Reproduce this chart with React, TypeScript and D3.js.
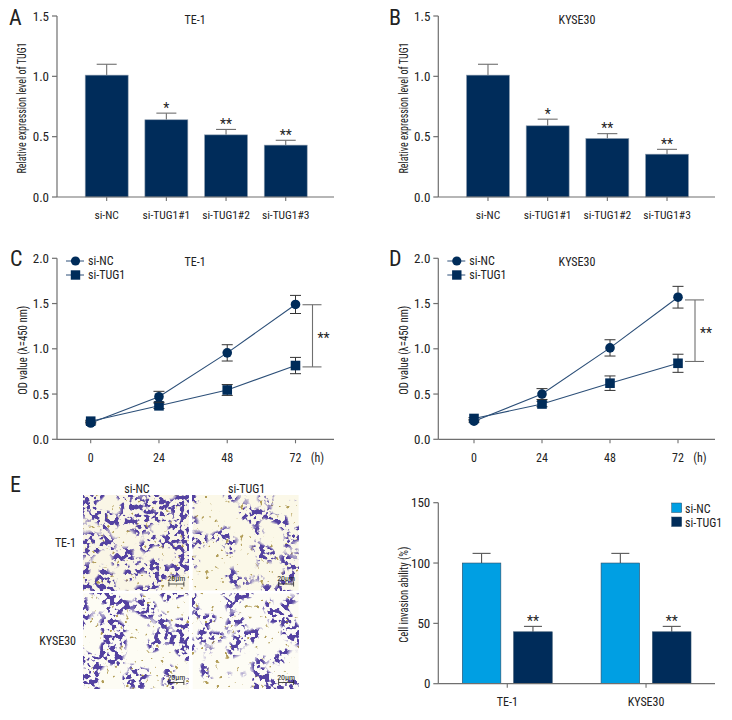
import * as d3 from "d3"

const FONT = "'Liberation Sans Narrow', 'Roboto Condensed', 'Liberation Sans', sans-serif"
const NAVY = "#002c5a"
const CYAN = "#009fe3"
const AXIS = "#6f6f6f"
const TEXT = "#222"

// knockdown groups
const groups = ["si-NC", "si-TUG1#1", "si-TUG1#2", "si-TUG1#3"]
const teBars = [1.01, 0.64, 0.515, 0.43]
const teBarErr = [0.09, 0.055, 0.045, 0.04]
const kyseBars = [1.01, 0.59, 0.485, 0.355]
const kyseBarErr = [0.09, 0.055, 0.04, 0.04]
const barStars = ["", "*", "**", "**"]
const barTicks = [0, 0.5, 1, 1.5]

// proliferation curves
const hours = [0, 24, 48, 72]
const odTicks = [0, 0.5, 1, 1.5, 2]
const teNC = [0.18, 0.47, 0.955, 1.49]
const teNCErr = [0.01, 0.06, 0.09, 0.1]
const teTUG = [0.2, 0.37, 0.545, 0.815]
const teTUGErr = [0.01, 0.03, 0.06, 0.09]
const teBracket = [1.487, 0.8]
const kyseNC = [0.2, 0.5, 1.01, 1.57]
const kyseNCErr = [0.01, 0.06, 0.09, 0.12]
const kyseTUG = [0.23, 0.39, 0.62, 0.84]
const kyseTUGErr = [0.01, 0.03, 0.08, 0.1]
const kyseBracket = [1.54, 0.86]

// invasion
const cellLines = ["TE-1", "KYSE30"]
const treatments = ["si-NC", "si-TUG1"]
const invasionNC = [100, 100]
const invasionNCErr = [8, 8]
const invasionTUG = [43, 43]
const invasionTUGErr = [4.5, 4.5]
const invasionTicks = [0, 50, 100, 150]

// micrograph look per field: noise seed, clump cut-off, background
const fieldSeeds = [4, 11, 23, 37]
const fieldClump = [5.0, 6.0, 5.5, 6.1]
const fieldBack = ["#faf6e6", "#fbf8e8", "#fdfcf4", "#fdfcf5"]

function Label(props: any) {
  return <text fontFamily={FONT} fontSize={12} fill={TEXT} {...props} />
}

function YAxis({ x, y, ticks, fmt, title, titleX, titleLen }: any) {
  const [y0, y1] = y.range()
  return (
    <g>
      <line x1={x} x2={x} y1={y0} y2={y1} stroke={AXIS} strokeWidth={1.2} />
      {ticks.map((t: number) => (
        <g key={t}>
          <line x1={x - 5} x2={x} y1={y(t)} y2={y(t)} stroke={AXIS} strokeWidth={1.2} />
          <Label x={x - 8} y={y(t) + 4.5} textAnchor="end" fontSize={13}>
            {fmt(t)}
          </Label>
        </g>
      ))}
      <Label
        textAnchor="middle"
        fontSize={13}
        transform={`translate(${titleX},${(y0 + y1) / 2 + 1.5}) rotate(-90)`}
        textLength={titleLen}
        lengthAdjust="spacingAndGlyphs"
      >
        {title}
      </Label>
    </g>
  )
}

function ErrorBar({ x, yTop, yBase, cap, color = AXIS }: any) {
  return (
    <g stroke={color} strokeWidth={1.1}>
      <line x1={x} x2={x} y1={yBase} y2={yTop} />
      <line x1={x - cap} x2={x + cap} y1={yTop} y2={yTop} />
    </g>
  )
}

function BarPanel({ axisX, endX, letter, letterX, title, titleX, values, errs, titleAxisX }: any) {
  const y = d3.scaleLinear().domain([0, 1.5]).range([197, 16])
  const x = d3
    .scaleBand()
    .domain(groups)
    .range([axisX + 28.2, axisX + 250.2])
    .paddingInner(0.28)
    .paddingOuter(0)
  const cx = (g: string) => (x(g) ?? 0) + x.bandwidth() / 2
  return (
    <g>
      <Label x={letterX} y={25} fontSize={22}>
        {letter}
      </Label>
      <Label x={titleX} y={23.5} textAnchor="middle">
        {title}
      </Label>
      {groups.map((g, i) => (
        <g key={g}>
          <ErrorBar x={cx(g)} yTop={y(values[i] + errs[i])} yBase={y(values[i])} cap={10} />
          <rect
            x={x(g)}
            y={y(values[i])}
            width={x.bandwidth()}
            height={y(0) - y(values[i])}
            fill={NAVY}
            stroke="#8f9fb0"
            strokeWidth={0.6}
          />
          <line x1={cx(g)} x2={cx(g)} y1={y(0)} y2={y(0) + 4} stroke={AXIS} strokeWidth={1.1} />
          <Label x={cx(g)} y={219} textAnchor="middle" fontSize={11.5}>
            {g}
          </Label>
          {barStars[i] && (
            <Label x={cx(g)} y={y(values[i] + errs[i]) - 0.5} textAnchor="middle" fontSize={14}>
              {barStars[i]}
            </Label>
          )}
        </g>
      ))}
      <line x1={axisX} x2={endX} y1={y(0)} y2={y(0)} stroke={AXIS} strokeWidth={1.2} />
      <YAxis
        x={axisX}
        y={y}
        ticks={barTicks}
        fmt={d3.format(".1f")}
        title="Relative expression level of TUG1"
        titleX={titleAxisX}
        titleLen={131}
      />
    </g>
  )
}

function LinePanel({ axisX, endX, letter, letterX, title, titleX, nc, ncErr, tug, tugErr, bracket, titleAxisX, x0, x72 }: any) {
  const y = d3.scaleLinear().domain([0, 2]).range([439.3, 258.3])
  const x = d3.scaleLinear().domain([0, 72]).range([x0, x72])
  const line = d3
    .line<number>()
    .x((_, i) => x(hours[i]))
    .y((d) => y(d))
  const bracketX = x(72) + 17
  const legendX = axisX + 9
  return (
    <g>
      <Label x={letterX} y={266} fontSize={22}>
        {letter}
      </Label>
      <Label x={titleX} y={266} textAnchor="middle">
        {title}
      </Label>
      {[tug, nc].map((vals: number[], s) => (
        <g key={s}>
          {vals.map((v, i) => {
            const e = s ? ncErr[i] : tugErr[i]
            return (
              <g key={i} stroke="#333" strokeWidth={1}>
                <line x1={x(hours[i])} x2={x(hours[i])} y1={y(v + e)} y2={y(v - e)} />
                <line x1={x(hours[i]) - 5.5} x2={x(hours[i]) + 5.5} y1={y(v + e)} y2={y(v + e)} />
                <line x1={x(hours[i]) - 5.5} x2={x(hours[i]) + 5.5} y1={y(v - e)} y2={y(v - e)} />
              </g>
            )
          })}
          <path d={line(vals) ?? ""} fill="none" stroke="#2c4f78" strokeWidth={1.1} />
          {vals.map((v, i) =>
            s ? (
              <circle key={i} cx={x(hours[i])} cy={y(v)} r={4.8} fill={NAVY} />
            ) : (
              <rect key={i} x={x(hours[i]) - 4.8} y={y(v) - 4.8} width={9.6} height={9.6} fill={NAVY} />
            )
          )}
        </g>
      ))}
      <g stroke={AXIS} strokeWidth={1.1}>
        <line x1={bracketX} x2={bracketX} y1={y(bracket[0])} y2={y(bracket[1])} />
        <line x1={bracketX - 10} x2={bracketX + 9} y1={y(bracket[0])} y2={y(bracket[0])} />
        <line x1={bracketX - 10} x2={bracketX + 9} y1={y(bracket[1])} y2={y(bracket[1])} />
      </g>
      <Label x={bracketX + 11} y={(y(bracket[0]) + y(bracket[1])) / 2 + 7} textAnchor="middle" fontSize={14}>
        **
      </Label>
      <line x1={legendX} x2={legendX + 18} y1={261} y2={261} stroke="#2c4f78" strokeWidth={1} />
      <circle cx={legendX + 9.5} cy={261} r={4.6} fill={NAVY} />
      <Label x={legendX + 22} y={265}>
        si-NC
      </Label>
      <line x1={legendX} x2={legendX + 18} y1={275} y2={275} stroke="#2c4f78" strokeWidth={1} />
      <rect x={legendX + 4.8} y={270.3} width={9.4} height={9.4} fill={NAVY} />
      <Label x={legendX + 22} y={279}>
        si-TUG1
      </Label>
      <line x1={axisX} x2={endX} y1={y(0)} y2={y(0)} stroke={AXIS} strokeWidth={1.2} />
      {hours.map((h) => (
        <g key={h}>
          <line x1={x(h)} x2={x(h)} y1={y(0)} y2={y(0) + 4} stroke={AXIS} strokeWidth={1.1} />
          <Label x={x(h)} y={461.5} textAnchor="middle">
            {h}
          </Label>
        </g>
      ))}
      <Label x={x(72) + 22} y={461.5} textAnchor="middle">
        (h)
      </Label>
      <YAxis
        x={axisX}
        y={y}
        ticks={odTicks}
        fmt={d3.format(".1f")}
        title="OD value (λ=450 nm)"
        titleX={titleAxisX}
        titleLen={89}
      />
    </g>
  )
}

function Micrographs() {
  const col = d3.scaleBand().domain(treatments).range([83, 298.6]).paddingInner(0.035)
  const row = d3.scaleBand().domain(cellLines).range([495, 689]).paddingInner(0.03)
  return (
    <g>
      <defs>
        {fieldSeeds.map((seed, i) => (
          <filter
            key={i}
            id={`cells${i}`}
            x="0"
            y="0"
            width="1"
            height="1"
            colorInterpolationFilters="sRGB"
          >
            <feTurbulence type="fractalNoise" baseFrequency={0.04} numOctaves={2} seed={seed} result="low" />
            <feColorMatrix
              in="low"
              type="matrix"
              values={`0 0 0 0 0  0 0 0 0 0  0 0 0 0 0  12 0 0 0 -${fieldClump[i]}`}
              result="clumps"
            />
            <feTurbulence type="fractalNoise" baseFrequency={0.2} numOctaves={2} seed={seed + 1} result="high" />
            <feColorMatrix
              in="high"
              type="matrix"
              values="0 0 0 0 0.33  0 0 0 0 0.26  0 0 0 0 0.63  16 0 0 0 -7.9"
              result="cellsRaw"
            />
            <feComposite in="cellsRaw" in2="clumps" operator="in" result="cellsIn" />
            <feColorMatrix
              in="high"
              type="matrix"
              values="0 0 0 0 0.7  0 0 0 0 0.62  0 0 0 0 0.35  0 14 0 0 -9.8"
              result="specks"
            />
            <feMerge>
              <feMergeNode in="specks" />
              <feMergeNode in="cellsIn" />
            </feMerge>
          </filter>
        ))}
      </defs>
      {cellLines.flatMap((c, r) =>
        treatments.map((t, k) => {
          const i = r * 2 + k
          const px = col(t) ?? 0
          const py = row(c) ?? 0
          const sx = px + col.bandwidth() - 20
          const sy = py + row.bandwidth() - 9
          return (
            <g key={c + t}>
              <rect x={px} y={py} width={col.bandwidth()} height={row.bandwidth()} fill={fieldBack[i]} />
              <rect
                x={px}
                y={py}
                width={col.bandwidth()}
                height={row.bandwidth()}
                fill="#000"
                filter={`url(#cells${i})`}
              />
              <g stroke="#222" strokeWidth={0.8} fill="none">
                <path d={`M${sx},${sy} v5 M${sx},${sy + 2.5} h15 M${sx + 15},${sy} v5`} />
              </g>
              <Label x={sx + 7.5} y={sy - 0.5} textAnchor="middle" fontSize={8}>
                20μm
              </Label>
            </g>
          )
        })
      )}
      {treatments.map((t) => (
        <Label key={t} x={(col(t) ?? 0) + col.bandwidth() / 2 + 1} y={493} textAnchor="middle">
          {t}
        </Label>
      ))}
      {cellLines.map((c) => (
        <Label key={c} x={76} y={(row(c) ?? 0) + row.bandwidth() / 2 + 4} textAnchor="end">
          {c}
        </Label>
      ))}
    </g>
  )
}

function InvasionPanel() {
  const axisX = 438.3
  const endX = 715
  const y = d3.scaleLinear().domain([0, 150]).range([683.7, 502.7])
  const x0 = d3.scaleBand().domain(cellLines).range([462.3, 691]).paddingInner(0.352)
  const x1 = d3.scaleBand().domain(treatments).range([0, x0.bandwidth()]).paddingInner(0.25)
  const series = [
    { name: treatments[0], vals: invasionNC, errs: invasionNCErr, color: CYAN },
    { name: treatments[1], vals: invasionTUG, errs: invasionTUGErr, color: NAVY },
  ]
  return (
    <g>
      {cellLines.map((c, i) => (
        <g key={c}>
          {series.map((s) => {
            const bx = (x0(c) ?? 0) + (x1(s.name) ?? 0)
            const cx = bx + x1.bandwidth() / 2
            return (
              <g key={s.name}>
                <ErrorBar x={cx} yTop={y(s.vals[i] + s.errs[i])} yBase={y(s.vals[i])} cap={9} color="#555" />
                <rect
                  x={bx}
                  y={y(s.vals[i])}
                  width={x1.bandwidth()}
                  height={y(0) - y(s.vals[i])}
                  fill={s.color}
                  stroke="#2b4a66"
                  strokeWidth={0.6}
                />
              </g>
            )
          })}
          <Label x={(x0(c) ?? 0) + x0.bandwidth() / 2} y={706} textAnchor="middle">
            {c}
          </Label>
          <line
            x1={(x0(c) ?? 0) + x0.bandwidth() / 2}
            x2={(x0(c) ?? 0) + x0.bandwidth() / 2}
            y1={y(0)}
            y2={y(0) + 4}
            stroke={AXIS}
            strokeWidth={1.1}
          />
          <Label
            x={(x0(c) ?? 0) + (x1(treatments[1]) ?? 0) + x1.bandwidth() / 2}
            y={y(invasionTUG[i] + invasionTUGErr[i]) - 0.5}
            textAnchor="middle"
            fontSize={14}
          >
            **
          </Label>
        </g>
      ))}
      <line x1={axisX} x2={endX} y1={y(0)} y2={y(0)} stroke={AXIS} strokeWidth={1.2} />
      <YAxis
        x={axisX}
        y={y}
        ticks={invasionTicks}
        fmt={d3.format("d")}
        title="Cell invasion ability (%)"
        titleX={408}
        titleLen={96}
      />
      {series.map((s, i) => (
        <g key={s.name}>
          <rect x={671.7} y={503 + i * 14} width={10} height={9.5} fill={s.color} stroke="#2b4a66" strokeWidth={0.5} />
          <Label x={685} y={512.5 + i * 14}>
            {s.name}
          </Label>
        </g>
      ))}
    </g>
  )
}

export default function App() {
  return (
    <svg
      width={732}
      height={720}
      style={{ position: "absolute", left: 0, top: 0, display: "block", background: "#fff" }}
    >
      <BarPanel
        axisX={57}
        endX={334}
        letter="A"
        letterX={9}
        title="TE-1"
        titleX={195}
        values={teBars}
        errs={teBarErr}
        titleAxisX={26}
      />
      <BarPanel
        axisX={438.3}
        endX={715}
        letter="B"
        letterX={389}
        title="KYSE30"
        titleX={577}
        values={kyseBars}
        errs={kyseBarErr}
        titleAxisX={408}
      />
      <LinePanel
        axisX={57}
        endX={334}
        letter="C"
        letterX={10}
        title="TE-1"
        titleX={195}
        nc={teNC}
        ncErr={teNCErr}
        tug={teTUG}
        tugErr={teTUGErr}
        bracket={teBracket}
        titleAxisX={27}
        x0={90.7}
        x72={295.5}
      />
      <LinePanel
        axisX={438.3}
        endX={715}
        letter="D"
        letterX={389}
        title="KYSE30"
        titleX={577}
        nc={kyseNC}
        ncErr={kyseNCErr}
        tug={kyseTUG}
        tugErr={kyseTUGErr}
        bracket={kyseBracket}
        titleAxisX={408}
        x0={474}
        x72={678}
      />
      <Label x={10} y={492} fontSize={22}>
        E
      </Label>
      <Micrographs />
      <InvasionPanel />
    </svg>
  )
}
